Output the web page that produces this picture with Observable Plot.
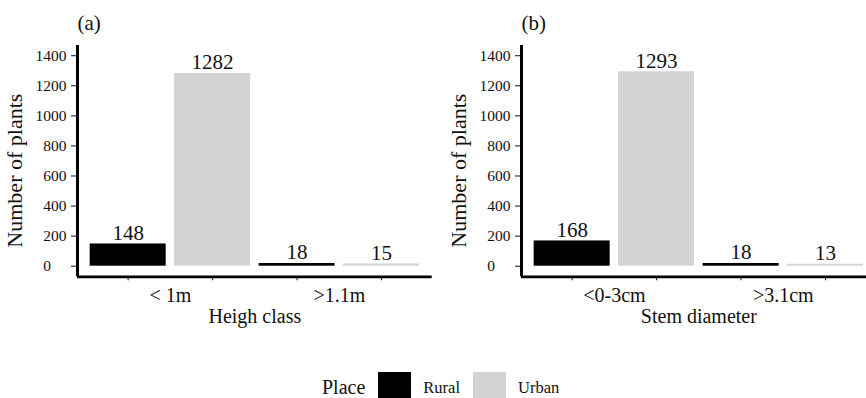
<!DOCTYPE html>
<html><head><meta charset="utf-8">
<script src="https://cdn.jsdelivr.net/npm/d3@7"></script>
<script src="https://cdn.jsdelivr.net/npm/@observablehq/plot@0.6"></script>
<style>
html,body{margin:0;padding:0;width:866px;height:398px;overflow:hidden;background:#fff;font-family:"Liberation Serif","Times New Roman",serif;color:#111;}
#pa,#pb{position:absolute;top:0;width:433px;height:335px;}
#pa{left:0}
#pb{left:444px}
#pa svg,#pb svg{max-width:none !important;}
#legend{position:absolute;left:322px;top:372px;height:33px;display:flex;align-items:center;}
#legend .lt{font-size:20px;line-height:20px;margin-right:13px;position:relative;top:-2px;}
#legend .sw{width:33px;height:33px;display:inline-block;}
#legend .ll{font-size:16.5px;line-height:17px;margin:0 13px 0 12px;position:relative;top:-1px;}
</style></head><body>
<div id="pa"></div><div id="pb"></div><div id="legend"></div>
<script>
const places = ["Rural", "Urban"];
const placeColors = ["#000000", "#d3d3d3"];
const heightClasses = ["< 1m", ">1.1m"];
const heightRural = [148, 18];
const heightUrban = [1282, 15];
const stemClasses = ["<0-3cm", ">3.1cm"];
const stemRural = [168, 18];
const stemUrban = [1293, 13];
const yTicks = [0, 200, 400, 600, 800, 1000, 1200, 1400];
const panelTags = ["(a)", "(b)"];
const xTitles = ["Heigh class", "Stem diameter"];
const yTitle = "Number of plants";
const legendTitle = "Place";

const SERIF = "'Liberation Serif', 'Times New Roman', serif";

function panel(tag, classes, rural, urban, xTitle) {
  const rows = [];
  classes.forEach((c, g) => {
    [rural[g], urban[g]].forEach((v, p) =>
      rows.push({cls: c, place: places[p], value: v, pos: g * 2 + p + 1}));
  });
  const n = rows.length;
  const xDom = [0.4, n + 0.6];
  const yDom = [-70.5, 1468];
  return Plot.plot({
    width: 433, height: 335,
    marginTop: 45, marginBottom: 58.7, marginLeft: 77, marginRight: 1.3,
    style: {fontFamily: SERIF, color: "#111", background: "transparent", overflow: "visible", maxWidth: "none"},
    x: {domain: xDom},
    y: {domain: yDom},
    color: {domain: places, range: placeColors},
    marks: [
      Plot.rectY(rows, {x1: d => d.pos - 0.45, x2: d => d.pos + 0.45, y1: 0, y2: "value", fill: "place"}),
      Plot.text(rows, {x: "pos", y: "value", text: d => String(d.value), lineAnchor: "bottom", fontSize: 21, fontFamily: SERIF, dy: -4}),
      Plot.axisY({ticks: yTicks, tickSize: 6, tickPadding: 5, fontSize: 15.5, fontFamily: SERIF,
        tickFormat: d => d === 0 ? "0\u2007\u2007" : String(d), label: null}),
      Plot.axisX({ticks: rows.map(d => d.pos), tickSize: 4, tickFormat: () => "", label: null}),
      Plot.axisX({ticks: classes.map((c, g) => g * 2 + 1.5), tickSize: 0, tickPadding: 11.2, fontSize: 20, fontFamily: SERIF,
        tickFormat: d => classes[Math.round((d - 1.5) / 2)], label: null}),
      Plot.ruleX([xDom[0]], {strokeWidth: 3, stroke: "#000"}),
      Plot.ruleY([yDom[0]], {strokeWidth: 2.7, stroke: "#000"}),
      Plot.text([yTitle], {text: d => d, frameAnchor: "left", textAnchor: "middle", rotate: -90, dx: -56, dy: 9.5, lineAnchor: "bottom", fontSize: 22, fontFamily: SERIF}),
      Plot.text([xTitle], {text: d => d, frameAnchor: "bottom", textAnchor: "middle", lineAnchor: "bottom", dy: 46.3, fontSize: 20, fontFamily: SERIF}),
      Plot.text([tag], {text: d => d, frameAnchor: "top-left", textAnchor: "start", lineAnchor: "bottom", dy: -15.5, fontSize: 21, fontFamily: SERIF})
    ]
  });
}

document.getElementById("pa").appendChild(panel(panelTags[0], heightClasses, heightRural, heightUrban, xTitles[0]));
document.getElementById("pb").appendChild(panel(panelTags[1], stemClasses, stemRural, stemUrban, xTitles[1]));

const lg = d3.select("#legend");
lg.append("span").attr("class", "lt").text(legendTitle);
places.forEach((p, i) => {
  lg.append("span").attr("class", "sw").style("background", placeColors[i]);
  lg.append("span").attr("class", "ll").text(p);
});
</script>
</body></html>
